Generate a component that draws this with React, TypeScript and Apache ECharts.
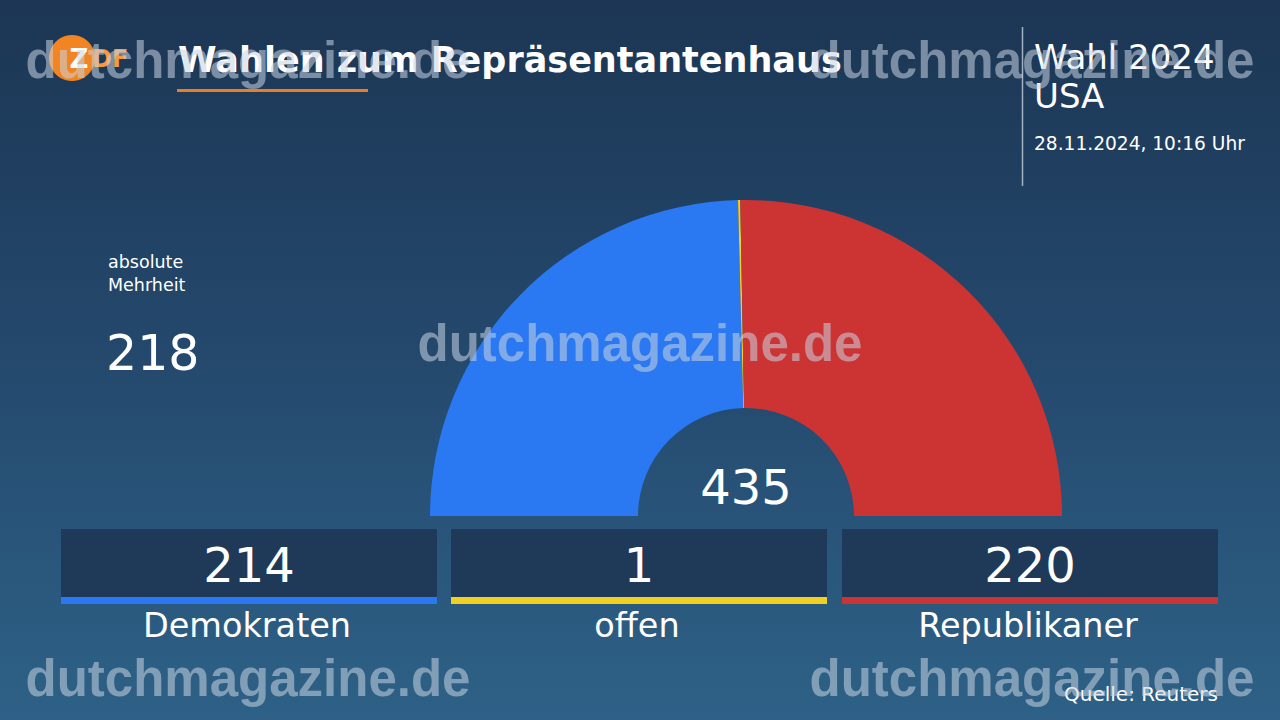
import React, { useEffect, useRef } from "react";
import * as echarts from "echarts";

const parties = ["Demokraten", "offen", "Republikaner"];
const seats = [214, 1, 220];
const partyColors = ["#2a78f2", "#f3cf1f", "#cc3434"];
const majority = 218;
const titleText = "Wahlen zum Repräsentantenhaus";
const electionLabel = "Wahl 2024";
const countryLabel = "USA";
const timestamp = "28.11.2024, 10:16 Uhr";
const majorityLabel = ["absolute", "Mehrheit"];
const sourceLabel = "Quelle: Reuters";
const watermark = "dutchmagazine.de";

export default function App() {
  const ref = useRef<HTMLDivElement>(null);
  useEffect(() => {
    if (!ref.current) return;
    const chart = echarts.init(ref.current, null, { renderer: "svg" });
    const total = seats.reduce((a, b) => a + b, 0);
    const font = "'DejaVu Sans', 'Noto Sans', sans-serif";
    const boxX = [61, 451, 842];
    const boxW = 376;
    const graphics: any[] = [];

    // logo
    graphics.push({ type: "circle", shape: { cx: 72, cy: 58, r: 23 }, style: { fill: "#f28421" }, z: 5 });
    graphics.push({ type: "text", x: 79, y: 59, style: { text: "Z", fill: "#ffffff", font: `bold 26px ${font}`, align: "center", verticalAlign: "middle" }, z: 6 });
    graphics.push({ type: "text", x: 92, y: 59, style: { text: "DF", fill: "#f59a3e", font: `bold 24px ${font}`, align: "left", verticalAlign: "middle" }, z: 6 });

    // title
    graphics.push({ type: "text", x: 178, y: 60, style: { text: titleText, fill: "#ffffff", font: `bold 35px ${font}`, align: "left", verticalAlign: "middle" }, z: 5 });
    graphics.push({ type: "rect", shape: { x: 177, y: 89, width: 191, height: 3 }, style: { fill: "#ef7d1c" }, z: 5 });

    // top right
    graphics.push({ type: "line", shape: { x1: 1022.5, y1: 27, x2: 1022.5, y2: 186 }, style: { stroke: "rgba(220,230,240,0.7)", lineWidth: 1.5 }, z: 5 });
    graphics.push({ type: "text", x: 1034, y: 57, style: { text: electionLabel, fill: "#ffffff", font: `34px ${font}`, align: "left", verticalAlign: "middle" }, z: 5 });
    graphics.push({ type: "text", x: 1034, y: 96, style: { text: countryLabel, fill: "#ffffff", font: `34px ${font}`, align: "left", verticalAlign: "middle" }, z: 5 });
    graphics.push({ type: "text", x: 1034, y: 143, style: { text: timestamp, fill: "#ffffff", font: `18.6px ${font}`, align: "left", verticalAlign: "middle" }, z: 5 });

    // majority
    graphics.push({ type: "text", x: 108, y: 262, style: { text: majorityLabel[0], fill: "#ffffff", font: `17.5px ${font}`, align: "left", verticalAlign: "middle" }, z: 5 });
    graphics.push({ type: "text", x: 108, y: 285, style: { text: majorityLabel[1], fill: "#ffffff", font: `17.5px ${font}`, align: "left", verticalAlign: "middle" }, z: 5 });
    graphics.push({ type: "text", x: 106, y: 353, style: { text: String(majority), fill: "#ffffff", font: `49px ${font}`, align: "left", verticalAlign: "middle" }, z: 5 });

    // total
    graphics.push({ type: "text", x: 746, y: 487, style: { text: String(total), fill: "#ffffff", font: `48px ${font}`, align: "center", verticalAlign: "middle" }, z: 5 });

    // boxes
    parties.forEach((p, i) => {
      graphics.push({ type: "rect", shape: { x: boxX[i], y: 529, width: boxW, height: 68 }, style: { fill: "#1f3a58" }, z: 4 });
      graphics.push({ type: "rect", shape: { x: boxX[i], y: 597, width: boxW, height: 7 }, style: { fill: partyColors[i] }, z: 4 });
      graphics.push({ type: "text", x: boxX[i] + boxW / 2, y: 565, style: { text: String(seats[i]), fill: "#ffffff", font: `48px ${font}`, align: "center", verticalAlign: "middle" }, z: 5 });
      graphics.push({ type: "text", x: boxX[i] + boxW / 2 - 2, y: 625, style: { text: p, fill: "#ffffff", font: `33.5px ${font}`, align: "center", verticalAlign: "middle" }, z: 5 });
    });

    graphics.push({ type: "text", x: 1218, y: 694, style: { text: sourceLabel, fill: "#ffffff", font: `20px ${font}`, align: "right", verticalAlign: "middle" }, z: 5 });

    // watermarks
    const wm: [number, number][] = [[248, 60], [1032, 60], [640, 343], [248, 678], [1032, 678]];
    wm.forEach(([x, y]) => {
      graphics.push({ type: "text", x, y, style: { text: watermark, fill: "rgba(200,212,226,0.55)", font: `bold 51px 'Liberation Sans', Arial, sans-serif`, align: "center", verticalAlign: "middle" }, z: 20 });
    });

    chart.setOption({
      animation: false,
      backgroundColor: new echarts.graphic.LinearGradient(0, 0, 0, 1, [
        { offset: 0, color: "#1c3654" },
        { offset: 0.5, color: "#24496d" },
        { offset: 1, color: "#2e6187" },
      ]),
      series: [
        {
          type: "pie",
          center: [746, 516],
          radius: [108, 316],
          startAngle: 180,
          endAngle: 0,
          label: { show: false },
          labelLine: { show: false },
          emphasis: { disabled: true },
          silent: true,
          itemStyle: { borderWidth: 0 },
          data: parties.map((p, i) => ({ name: p, value: seats[i], itemStyle: { color: partyColors[i] } })),
        },
      ],
      graphic: graphics,
    });
    return () => chart.dispose();
  }, []);
  return <div ref={ref} style={{ position: "fixed", left: 0, top: 0, width: 1280, height: 720 }} />;
}
